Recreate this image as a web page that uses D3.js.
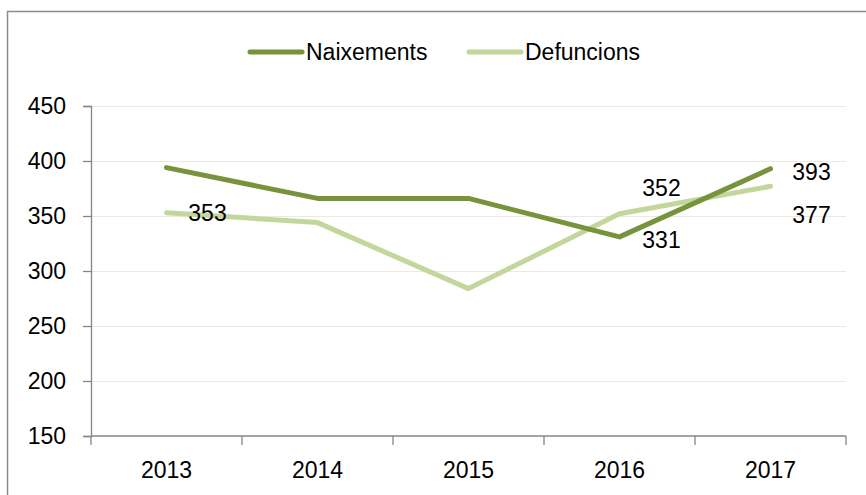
<!DOCTYPE html>
<html>
<head>
<meta charset="utf-8">
<script src="https://cdn.jsdelivr.net/npm/d3@7"></script>
<style>
  body { margin: 0; background: #fff; }
  text { font-family: "Liberation Sans", Arial, sans-serif; fill: #000; }
</style>
</head>
<body>
<div id="chart_area"></div>
<script>
// data
var years = ["2013", "2014", "2015", "2016", "2017"];
var naixements = [394, 366, 366, 331, 393];
var defuncions = [353, 344, 284, 352, 377];
var yTicks = [150, 200, 250, 300, 350, 400, 450];
var seriesNames = ["Naixements", "Defuncions"];
// which points carry a value label: [series index, year index]
var labelled = [[1, 0], [1, 3], [0, 3], [0, 4], [1, 4]];

var series = [
	{ name: seriesNames[0], values: naixements, color: "#77933c" },
	{ name: seriesNames[1], values: defuncions, color: "#c3d69b" }
];

// sizes
var frame_width = 866, frame_height = 495;
var margin = { top: 106, right: 20, bottom: 59, left: 91 };
var canvas_width = 846 - margin.left;
var canvas_height = 436 - margin.top;
var fontSize = "23px";

var frame = d3.select("#chart_area").append("svg")
	.attr("width", frame_width)
	.attr("height", frame_height);

// outer chart border (cropped at right and bottom)
frame.append("path")
	.attr("d", "M7.5,500 V11.5 H870")
	.attr("fill", "none")
	.attr("stroke", "#8c8c8c")
	.attr("stroke-width", 1.5);

var canvas = frame.append("g")
	.attr("transform", "translate(" + margin.left + "," + margin.top + ")");

var xScale = d3.scaleBand().domain(years).range([0, canvas_width]);
var yScale = d3.scaleLinear().domain([150, 450]).range([canvas_height, 0]);

// grid lines
canvas.append("g").selectAll("line")
	.data(yTicks.filter(function(d) { return d > 150; }))
	.enter().append("line")
	.attr("x1", 0).attr("x2", canvas_width)
	.attr("y1", function(d) { return yScale(d) + 0.5; })
	.attr("y2", function(d) { return yScale(d) + 0.5; })
	.attr("stroke", "#ede8e0")
	.attr("stroke-width", 1.2);

// y axis
var yAxis = d3.axisLeft(yScale).tickValues(yTicks).tickSize(8).tickPadding(17);
var yg = canvas.append("g").call(yAxis);
yg.select(".domain").attr("stroke", "#868686").attr("stroke-width", 1.3);
yg.selectAll(".tick line").attr("stroke", "#868686").attr("stroke-width", 1.3);
yg.selectAll(".tick text").style("font-size", fontSize).attr("fill", "#000");

// x axis, ticks between categories
var xg = canvas.append("g").attr("transform", "translate(0," + canvas_height + ")");
xg.append("line")
	.attr("x1", 0).attr("x2", canvas_width)
	.attr("stroke", "#868686").attr("stroke-width", 1.3);
var bounds = years.map(function(d) { return xScale(d); }).concat([canvas_width]);
xg.selectAll(".xt").data(bounds).enter().append("line")
	.attr("class", "xt")
	.attr("x1", function(d) { return d; }).attr("x2", function(d) { return d; })
	.attr("y1", 0).attr("y2", 9)
	.attr("stroke", "#868686").attr("stroke-width", 1.3);
xg.selectAll(".xl").data(years).enter().append("text")
	.attr("class", "xl")
	.attr("x", function(d) { return xScale(d) + xScale.bandwidth() / 2; })
	.attr("y", 34)
	.attr("dy", "0.35em")
	.attr("text-anchor", "middle")
	.style("font-size", fontSize)
	.text(function(d) { return d; });

// lines
var line = d3.line()
	.x(function(d, i) { return xScale(years[i]) + xScale.bandwidth() / 2; })
	.y(function(d) { return yScale(d); });

canvas.selectAll(".series").data(series.slice().reverse()).enter().append("path")
	.attr("class", "series")
	.attr("d", function(d) { return line(d.values); })
	.attr("fill", "none")
	.attr("stroke", function(d) { return d.color; })
	.attr("stroke-width", 5)
	.attr("stroke-linecap", "round")
	.attr("stroke-linejoin", "round");

// value labels, offsets from their point
var labelOffset = { "1-0": [41, 0], "1-3": [42, -26], "0-3": [42, 3], "0-4": [41, 3], "1-4": [41, 29] };
canvas.selectAll(".vl").data(labelled).enter().append("text")
	.attr("class", "vl")
	.attr("x", function(d) { return xScale(years[d[1]]) + xScale.bandwidth() / 2 + labelOffset[d[0] + "-" + d[1]][0]; })
	.attr("y", function(d) { return yScale(series[d[0]].values[d[1]]) + labelOffset[d[0] + "-" + d[1]][1]; })
	.attr("dy", "0.35em")
	.attr("text-anchor", "middle")
	.style("font-size", fontSize)
	.text(function(d) { return series[d[0]].values[d[1]]; });

// legend
var legendX = [248, 467];
var legend = frame.selectAll(".legend").data(series).enter().append("g")
	.attr("class", "legend")
	.attr("transform", function(d, i) { return "translate(" + legendX[i] + ",52)"; });
legend.append("line")
	.attr("x1", 2).attr("x2", 54)
	.attr("stroke", function(d) { return d.color; })
	.attr("stroke-width", 5)
	.attr("stroke-linecap", "round");
legend.append("text")
	.attr("x", 58)
	.attr("dy", "0.35em")
	.style("font-size", fontSize)
	.text(function(d) { return d.name; });
</script>
</body>
</html>
